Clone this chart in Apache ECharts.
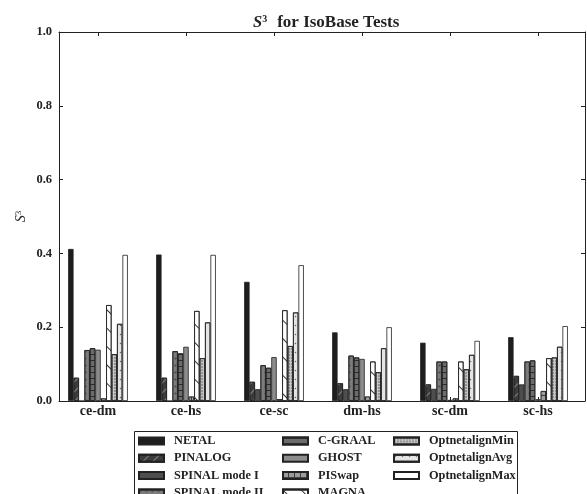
<!DOCTYPE html>
<html><head><meta charset="utf-8">
<script src="https://cdn.jsdelivr.net/npm/echarts@6/dist/echarts.min.js"></script>
<style>html,body{margin:0;padding:0;background:#fff}#c{width:587px;height:494px}</style>
</head><body><div id="c"></div>
<script>
const categories = ['ce-dm','ce-hs','ce-sc','dm-hs','sc-dm','sc-hs'];
const seriesNames = ['NETAL','PINALOG','SPINAL mode I','SPINAL mode II','C-GRAAL','GHOST','PISwap','MAGNA','OptnetalignMin','OptnetalignAvg','OptnetalignMax'];
const NETAL   = [0.412, 0.397, 0.323, 0.186, 0.158, 0.173];
const PINALOG = [0.063, 0.063, 0.052, 0.048, 0.045, 0.068];
const SPINAL1 = [0.000, 0.000, 0.032, 0.032, 0.033, 0.045];
const SPINAL2 = [0.138, 0.135, 0.097, 0.123, 0.107, 0.107];
const CGRAAL  = [0.143, 0.129, 0.090, 0.118, 0.107, 0.110];
const GHOST   = [0.139, 0.147, 0.119, 0.114, 0.003, 0.005];
const PISWAP  = [0.007, 0.012, 0.005, 0.012, 0.007, 0.027];
const MAGNA   = [0.260, 0.244, 0.246, 0.107, 0.107, 0.116];
const OPTMIN  = [0.127, 0.116, 0.149, 0.078, 0.086, 0.118];
const OPTAVG  = [0.209, 0.213, 0.240, 0.143, 0.125, 0.147];
const OPTMAX  = [0.396, 0.396, 0.368, 0.200, 0.163, 0.203];
const yTicks = [0, 0.2, 0.4, 0.6, 0.8, 1.0];

const values = [NETAL, PINALOG, SPINAL1, SPINAL2, CGRAAL, GHOST, PISWAP, MAGNA, OPTMIN, OPTAVG, OPTMAX];
const styles = [
  {color:'#1e1e1e'},
  {color:'#3c3c3c', decal:{symbol:'rect', color:'rgba(140,140,140,0.9)', dashArrayX:[1,0], dashArrayY:[1,6], rotation:-Math.PI/4}},
  {color:'#4e4e4e'},
  {color:'#7c7c7c', decal:{symbol:'circle', symbolSize:0.7, color:'#4a4a4a', dashArrayX:[3,3], dashArrayY:[3,4]}},
  {color:'#6c6c6c', decal:{symbol:'rect', color:'#2a2a2a', dashArrayX:[1,0], dashArrayY:[1,5], rotation:0}},
  {color:'#8c8c8c'},
  {color:'#3a3a3a', decal:{symbol:'rect', symbolSize:1, color:'#9c9c9c', dashArrayX:[5,1], dashArrayY:[5,1]}},
  {color:'#ffffff', decal:{symbol:'rect', color:'#333', dashArrayX:[1,0], dashArrayY:[1,12], rotation:Math.PI/4}},
  {color:'#c6c6c6', decal:{symbol:'circle', symbolSize:0.8, color:'#555', dashArrayX:[2,1], dashArrayY:[2,1]}},
  {color:'#e4e4e4', decal:{symbol:'circle', symbolSize:0.5, color:'#666', dashArrayX:[3,4], dashArrayY:[3,6]}},
  {color:'#ffffff'}
];

const FONT = '"Liberation Serif", "DejaVu Serif", serif';
const xMin = -0.443, xMax = 5.534;
const series = seriesNames.map((name, i) => ({
  name: name,
  type: 'bar',
  barWidth: 5.43,
  barGap: '0%',
  itemStyle: Object.assign({borderColor:'#222', borderWidth:0.8}, styles[i]),
  data: values[i].map((v, k) => [k, v])
}));

const legendText = {fontFamily: FONT, fontWeight:'bold', fontSize:12.3, lineHeight:12, color:'#222', padding:[0,0,0,5]};
function mkLegend(names, left) {
  return {
    type:'plain', orient:'vertical', left:left, top:435, height:120, padding:0, itemGap:5.3,
    itemWidth:25, itemHeight:7, icon:'rect', selectedMode:false,
    textStyle: legendText, data: names
  };
}

const chart = echarts.init(document.getElementById('c'), null, {renderer:'canvas'});
chart.setOption({
  animation:false,
  backgroundColor:'#fff',
  title:{
    text:'{s|S}{sup|3}  {b|for IsoBase Tests}',
    left:248, top:9,
    textStyle:{rich:{
      s:{fontFamily:FONT, fontStyle:'italic', fontSize:16.5, color:'#222'},
      sup:{fontFamily:FONT, fontSize:10, color:'#222', verticalAlign:'top', padding:[0,0,8,0]},
      b:{fontFamily:FONT, fontWeight:'bold', fontSize:17, color:'#222'}
    }}
  },
  grid:{left:59, right:2, top:32, bottom:93, containLabel:false},
  xAxis:[{
    type:'value', min:xMin, max:xMax, position:'bottom',
    axisLine:{onZero:false, lineStyle:{color:'#222', width:1}},
    splitLine:{show:false},
    axisTick:{show:true, inside:true, length:4, customValues:[0,1,2,3,4,5], lineStyle:{color:'#222'}},
    axisLabel:{customValues:[0,1,2,3,4,5], formatter:v => categories[Math.round(v)], fontFamily:FONT, fontWeight:'bold', fontSize:14, color:'#222', margin:3}
  },{
    type:'value', min:xMin, max:xMax, position:'top',
    axisLine:{show:true, onZero:false, lineStyle:{color:'#222', width:1}},
    splitLine:{show:false},
    axisTick:{show:true, inside:true, length:4, customValues:[0,1,2,3,4,5], lineStyle:{color:'#222'}},
    axisLabel:{show:false}
  }],
  yAxis:[{
    type:'value', min:0, max:1, interval:0.2, position:'left',
    name:'{s|S}{sup|3}', nameLocation:'middle', nameRotate:90, nameGap:30, nameMoveOverlap:false,
    nameTextStyle:{rich:{
      s:{fontFamily:FONT, fontStyle:'italic', fontSize:14, color:'#222'},
      sup:{fontFamily:FONT, fontSize:9, color:'#222', verticalAlign:'top', padding:[0,0,6,0]}
    }},
    axisLine:{show:true, onZero:false, lineStyle:{color:'#222', width:1}},
    splitLine:{show:false},
    axisTick:{show:true, inside:true, length:4, lineStyle:{color:'#222'}},
    axisLabel:{formatter:v => v.toFixed(1), fontFamily:FONT, fontWeight:'bold', fontSize:12.5, color:'#222', margin:7}
  },{
    type:'value', min:0, max:1, interval:0.2, position:'right',
    axisLine:{show:true, onZero:false, lineStyle:{color:'#222', width:1}},
    splitLine:{show:false},
    axisTick:{show:true, inside:true, length:4, lineStyle:{color:'#222'}},
    axisLabel:{show:false}
  }],
  legend:[
    mkLegend(seriesNames.slice(0,4), 138),
    mkLegend(seriesNames.slice(4,8), 282),
    mkLegend(seriesNames.slice(8,11), 393)
  ],
  graphic:[{type:'rect', shape:{x:134.5, y:431.5, width:383, height:90}, style:{fill:null, stroke:'#222', lineWidth:1}, silent:true}],
  series: series
});
</script></body></html>
